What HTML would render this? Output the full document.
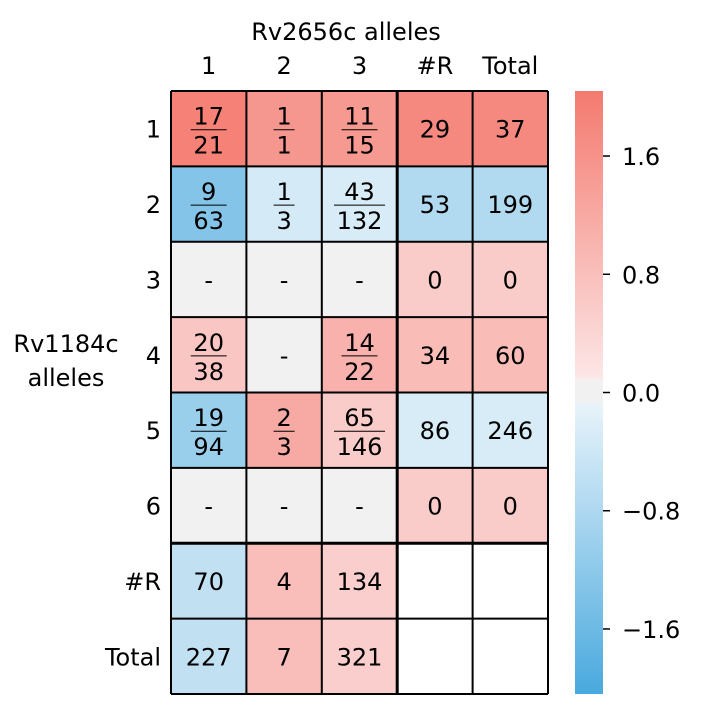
<!DOCTYPE html>
<html><head><meta charset="utf-8"><style>
body{margin:0;background:#fff;}
svg{display:block;font-family:"DejaVu Sans","Liberation Sans",sans-serif;}
</style></head><body>
<svg id="chart" width="710" height="718" viewBox="0 0 710 718">
<defs>
<linearGradient id="cbgrad" x1="0" y1="1" x2="0" y2="0">
<stop offset="0" stop-color="#49a9de"/>
<stop offset="0.48" stop-color="#e8f3fa"/>
<stop offset="0.485" stop-color="#f1f1f1"/>
<stop offset="0.52" stop-color="#f1f1f1"/>
<stop offset="0.525" stop-color="#fce6e6"/>
<stop offset="1" stop-color="#f47a6f"/>
</linearGradient>
</defs>
<text x="346" y="40" font-size="24" text-anchor="middle">Rv2656c alleles</text>
<text x="66" y="352" font-size="24" text-anchor="middle">Rv1184c</text>
<text x="66" y="386" font-size="24" text-anchor="middle">alleles</text>
<g id="cells"></g>
<g id="grid"></g>
<g id="labels"></g>
<rect x="575" y="91" width="28" height="603" fill="url(#cbgrad)"/>
<g id="cbticks"></g>
</svg>
<script>
const colLabels = ["1","2","3","#R","Total"];
const rowLabels = ["1","2","3","4","5","6","#R","Total"];
const cellText = [
 ["17/21","1/1","11/15","29","37"],
 ["9/63","1/3","43/132","53","199"],
 ["-","-","-","0","0"],
 ["20/38","-","14/22","34","60"],
 ["19/94","2/3","65/146","86","246"],
 ["-","-","-","0","0"],
 ["70","4","134","",""],
 ["227","7","321","",""]
];
const cellValues = [
 [1.9,1.5,1.45,1.75,1.75],
 [-1.3,-0.25,-0.2,-0.7,-0.7],
 [0,0,0,0.5,0.5],
 [0.6,0,1.0,0.8,0.8],
 [-1.0,1.15,0.5,-0.2,-0.2],
 [0,0,0,0.5,0.5],
 [-0.5,0.75,0.45,null,null],
 [-0.5,0.75,0.45,null,null]
];
const cbTicks = [1.6,0.8,0.0,-0.8,-1.6];
const cbTickLabels = ["1.6","0.8","0.0","\u22120.8","\u22121.6"];

const NS="http://www.w3.org/2000/svg";
const x0=171, x1=548, y0=91, y1=694, vmin=-2.04, vmax=2.04;
const cw=(x1-x0)/colLabels.length, ch=(y1-y0)/rowLabels.length;
function xs(i){return x0+i*cw;}
function ys(j){return y0+j*ch;}
function cbY(v){return y1-(v-vmin)/(vmax-vmin)*(y1-y0);}
function lerp(a,b,t){return a.map((c,i)=>Math.round(c+(b[i]-c)*t));}
function color(v){
 if(v===null) return "#ffffff";
 if(Math.abs(v)<0.05) return "#f1f1f1";
 let c;
 if(v>0){c=lerp([252,230,230],[244,122,111],Math.min(1,v/vmax));}
 else{c=lerp([232,243,250],[73,169,222],Math.min(1,v/vmin));}
 return "rgb("+c.join(",")+")";
}
function mk(tag,attrs,parent,txt){const e=document.createElementNS(NS,tag);for(const k in attrs)e.setAttribute(k,attrs[k]);if(txt!==undefined)e.textContent=txt;parent.appendChild(e);return e;}
const cells=document.getElementById("cells"), labels=document.getElementById("labels"), grid=document.getElementById("grid");
for(let r=0;r<rowLabels.length;r++){
 for(let c=0;c<colLabels.length;c++){
  const rect=mk("rect",{x:xs(c),y:ys(r),width:cw,height:ch,fill:color(cellValues[r][c])},cells);
  
  
  const t=cellText[r][c], cx=xs(c)+cw/2, cy=ys(r)+ch/2;
  if(t.indexOf("/")>=0){
   const [n,d]=t.split("/");
   const g=mk("g",{},cells);
   
   
   mk("text",{x:cx,y:cy-4,"font-size":24,"text-anchor":"middle"},g,n);
   mk("text",{x:cx,y:cy+25,"font-size":24,"text-anchor":"middle"},g,d);
   const w=Math.max(n.length,d.length)*15+6;
   mk("line",{x1:cx-w/2,x2:cx+w/2,y1:cy+1,y2:cy+1,stroke:"#000","stroke-width":1},g);
  } else if(t!==""){
   const te=mk("text",{x:cx,y:cy+9,"font-size":24,"text-anchor":"middle"},cells,t);
   
   
  }
 }
}
for(let c=0;c<=colLabels.length;c++){
 const l=mk("line",{x1:xs(c),x2:xs(c),y1:y0,y2:y1,stroke:"#000","stroke-width":c===3?3:2},grid);
 
 
}
for(let r=0;r<=rowLabels.length;r++){
 const l=mk("line",{x1:x0,x2:x1,y1:ys(r),y2:ys(r),stroke:"#000","stroke-width":r===6?3:2},grid);
 
 
}
colLabels.forEach((s,i)=>{
 const t=mk("text",{x:xs(i)+cw/2,y:74,"font-size":24,"text-anchor":"middle"},labels,s);
 
 
});
rowLabels.forEach((s,i)=>{
 const t=mk("text",{x:161,y:ys(i)+ch/2+9,"font-size":24,"text-anchor":"end"},labels,s);
 
 
});
const cbt=document.getElementById("cbticks");
cbTicks.forEach((v,i)=>{
 const y=cbY(v);
 const l=mk("line",{x1:603,x2:610,y1:y,y2:y,stroke:"#000","stroke-width":1.5},cbt);
 
 
 const t=mk("text",{x:622,y:y+9,"font-size":24},cbt,cbTickLabels[i]);
 
 
});
</script>
</body></html>
